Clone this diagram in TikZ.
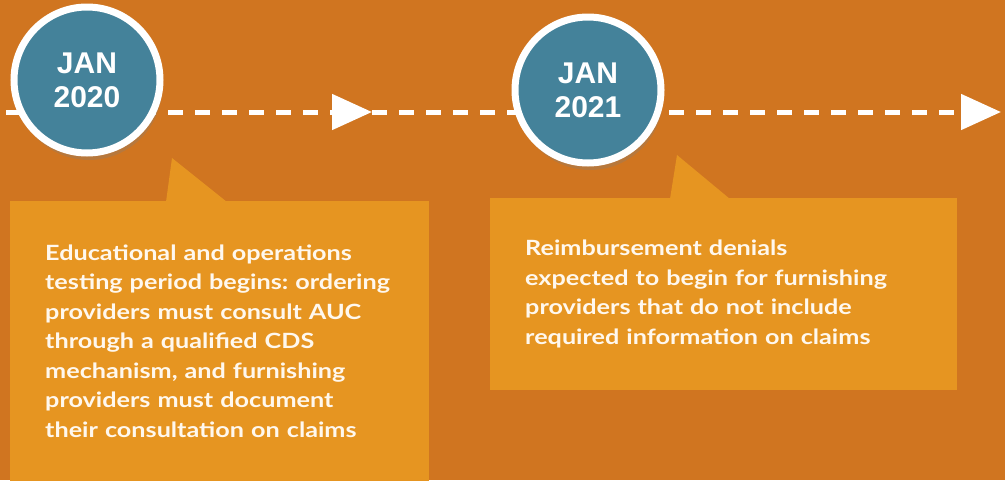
\documentclass[tikz,border=0pt]{standalone}
\usepackage{fontspec}
\setmainfont{Lato}[FakeStretch=1.2]
\newfontfamily\datefont{Liberation Sans}
\usetikzlibrary{arrows.meta,shadows}
\definecolor{bgorange}{HTML}{D07520}
\definecolor{boxorange}{HTML}{E69521}
\definecolor{dateteal}{HTML}{44829A}
\definecolor{notetext}{HTML}{FFF8EE}
\frenchspacing
\begin{document}
\begin{tikzpicture}[
    x=1pt, y=-1pt,
    datecircle/.style={circle, fill=dateteal, draw=white, line width=7pt,
        minimum size=146pt, inner sep=0pt, text=white, align=center,
        font=\datefont\bfseries\fontsize{30}{34}\selectfont,
        drop shadow={shadow xshift=2pt, shadow yshift=-7pt, opacity=0.3}},
    notebox/.style={fill=boxorange, anchor=north west, inner xsep=35pt,
        align=left, text=notetext,
        font=\bfseries\fontsize{21}{29.5}\selectfont},
    timeline/.style={white, line width=5pt, dash pattern=on 15pt off 12pt},
    tip/.style={-{Triangle[length=40pt,width=35pt]}}
]
\useasboundingbox (0,0) rectangle (1005,480);
\fill[bgorange] (0,0) rectangle (1005,480);

% timeline
\coordinate (start) at (6,112);
\coordinate (tip20) at (372,112);
\coordinate (tip21) at (1001,112);
\draw[timeline, tip] (start) -- (tip20);
\draw[timeline, tip] (tip20) -- (tip21);

% dates
\node[datecircle] (jan20) at (87,80) {JAN\\2020};
\node[datecircle] (jan21) at (588,90) {JAN\\2021};

% notes
\fill[boxorange] (166,202) -- (172,158) -- (227,202) -- cycle;
\node[notebox, text width=349pt, minimum height=280pt] (note20) at (10,201)
    {Educational and operations\\testing period begins: ordering\\providers must consult AUC\\through a qualified CDS\\mechanism, and furnishing\\providers must document\\their consultation on claims};

\fill[boxorange] (670,199) -- (677,155) -- (730,199) -- cycle;
\node[notebox, text width=397pt, minimum height=192pt] (note21) at (490,198)
    {Reimbursement denials\\expected to begin for furnishing\\providers that do not include\\required information on claims};
\end{tikzpicture}
\end{document}
